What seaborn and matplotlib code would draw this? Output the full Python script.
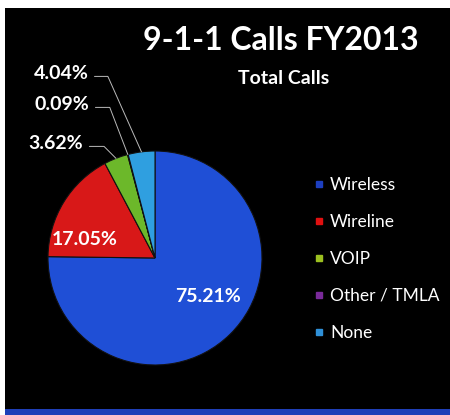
import numpy as np
import matplotlib.pyplot as plt
import seaborn as sns
from matplotlib.patches import Rectangle
from matplotlib.lines import Line2D

# data
categories = ["Wireless", "Wireline", "VOIP", "Other / TMLA", "None"]
shares = [75.21, 17.05, 3.62, 0.09, 4.04]
colors = ["#1f4fd6", "#d81818", "#6cb82a", "#7a2a9a", "#2f9fe0"]
legend_colors = ["#1d3fc0", "#e01010", "#9cc020", "#7a2a9a", "#2f90d8"]

sns.set_theme(style="dark")
plt.rcParams["font.family"] = ["Lato", "DejaVu Sans"]

fig = plt.figure(figsize=(4.5, 4.15), dpi=100, facecolor="white")

# black slide background with a blue strip along the bottom
fig.patches.append(Rectangle((5 / 450, 5 / 415), 445 / 450, 402 / 415,
                             transform=fig.transFigure, facecolor="black",
                             edgecolor="none", zorder=-2))
fig.patches.append(Rectangle((5 / 450, 0), 445 / 450, 6 / 415,
                             transform=fig.transFigure, facecolor="#1f3fb8",
                             edgecolor="none", zorder=-2))

# pie axes: centre ~ (155, 258) px from top, radius ~107 px
r_px = 107
cx, cy = 155, 415 - 258
ax = fig.add_axes([(cx - r_px) / 450, (cy - r_px) / 415, 2 * r_px / 450, 2 * r_px / 415])
ax.set_facecolor("none")

wedges, _ = ax.pie(shares, colors=colors, startangle=90, counterclock=False,
                   radius=1, wedgeprops=dict(edgecolor="#111111", linewidth=0.8))
ax.set_xlim(-1, 1)
ax.set_ylim(-1, 1)
ax.set_aspect("equal")
ax.axis("off")

# inside labels
ax.text(-0.66, 0.17, f"{shares[1]:.2f}%", color="white", fontsize=14,
        fontweight="bold", ha="center", va="center")
ax.text(0.50, -0.36, f"{shares[0]:.2f}%", color="white", fontsize=14,
        fontweight="bold", ha="center", va="center")

# outside labels with leader lines for the thin slices
label_pos = {2: (56, 415 - 143), 3: (62, 415 - 104), 4: (61, 415 - 73)}
angle_b = {2: 135, 3: 111, 4: 114}
for i, (tx, ty) in label_pos.items():
    w = wedges[i]
    mid = np.deg2rad((w.theta1 + w.theta2) / 2)
    ax.annotate(f"{shares[i]:.2f}%", xy=(np.cos(mid), np.sin(mid)),
                xycoords="data", xytext=(tx, ty), textcoords="figure pixels",
                color="white", fontsize=14, fontweight="bold",
                ha="center", va="center", annotation_clip=False,
                arrowprops=dict(arrowstyle="-", color="#bbbbbb", lw=0.7,
                                relpos=(1, 0.3), shrinkA=2, shrinkB=0,
                                connectionstyle=f"angle,angleA=0,angleB={angle_b[i]},rad=0"))

# titles
fig.text(281 / 450, 1 - 41 / 415, "9-1-1 Calls FY2013", color="white",
         fontsize=23, fontweight="bold", ha="center", va="center")
fig.text(284 / 450, 1 - 79 / 415, "Total Calls", color="white",
         fontsize=14, fontweight="bold", ha="center", va="center")

# legend
handles = [Line2D([0], [0], marker="s", linestyle="none", markersize=5,
                  markerfacecolor=c, markeredgecolor=c) for c in legend_colors]
leg = fig.legend(handles, categories, loc="center left",
                 bbox_to_anchor=(298 / 450, 1 - 259 / 415), frameon=False,
                 fontsize=12.5, labelspacing=1.2, handlelength=0.6,
                 handletextpad=0.35, labelcolor="white")

fig.savefig("out.png", dpi=100, facecolor=fig.get_facecolor())
